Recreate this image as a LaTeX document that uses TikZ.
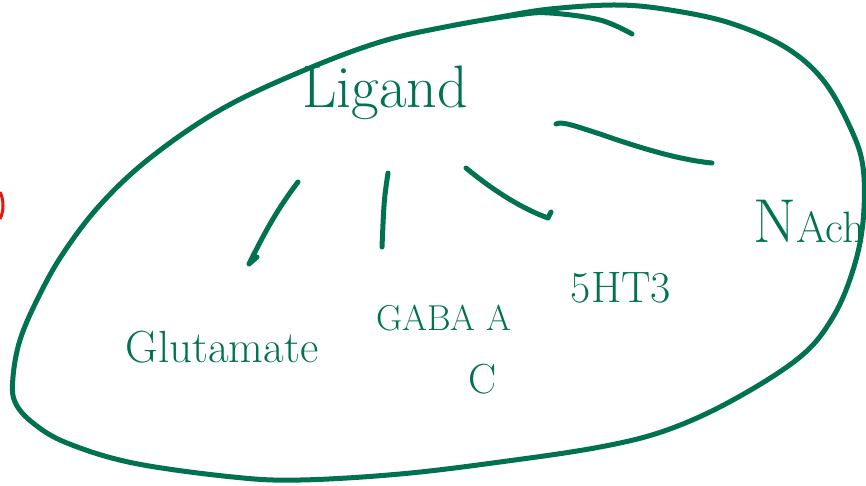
\documentclass[tikz,border=0pt]{standalone}
\usepackage{fontspec}
\definecolor{ink}{RGB}{0,114,82}
\definecolor{redink}{RGB}{232,20,20}
\begin{document}
\begin{tikzpicture}[x=1pt,y=-1pt,
  stroke/.style={draw=ink, line width=5pt, line cap=round, line join=round},
  lbl/.style={text=ink, inner sep=0pt, anchor=base}]
\useasboundingbox (0,0) rectangle (866,485);
% labels
\node[lbl, font=\fontsize{60}{62}\selectfont] (lig) at (385,107) {Ligand};
\node[lbl, font=\fontsize{45}{47}\selectfont] (glu) at (222,362) {Glutamate};
\node[lbl, font=\fontsize{36}{38}\selectfont] (gaba) at (444,330) {GABA A};
\node[lbl, font=\fontsize{42}{44}\selectfont] (gabac) at (483,393) {C};
\node[lbl, font=\fontsize{44}{46}\selectfont] (ht) at (621,302) {5HT3};
\node[lbl, anchor=base east, font=\fontsize{62}{64}\selectfont] (nach) at (865,242) {N{\fontsize{44}{46}\selectfont Ach}};
% connector end points
\coordinate (g1) at (298,182); \coordinate (g2) at (249,264);
\coordinate (b1) at (388,173); \coordinate (b2) at (382,247);
\coordinate (h1) at (466,168); \coordinate (h2) at (548,218);
\coordinate (n1) at (556,124); \coordinate (n2) at (712,163);
% connectors
\draw[stroke] (g1) .. controls (275,212) and (262,238) .. (g2) -- (257,257);
\draw[stroke] (b1) .. controls (384,200) .. (b2);
\draw[stroke] (h1) .. controls (490,188) and (520,208) .. (h2) -- (551,212);
\draw[stroke] (n1) .. controls (562,121) and (575,126) .. (600,134) .. controls (640,148) and (680,160) .. (n2);
% enclosing loop
\draw[stroke] plot[smooth, tension=0.6] coordinates {(632,34) (600,20) (550,13) (517,15) (450,26) (380,42) (300,72) (220,110) (150,158) (100,205) (62,255) (37,300) (20,340) (13,377) (15,402) (33,423) (67,443) (133,463) (233,477) (300,480) (400,474) (500,462) (600,447) (667,430) (733,400) (800,357) (833,317) (853,270) (863,222) (863,167) (850,127) (823,80) (785,47) (730,23) (670,10) (617,5) (550,9) (500,17) (450,26)};
% red mark at left edge
\draw[redink, line width=3pt] (0,192) .. controls (4,200) and (4,211) .. (0,219);
\end{tikzpicture}
\end{document}
